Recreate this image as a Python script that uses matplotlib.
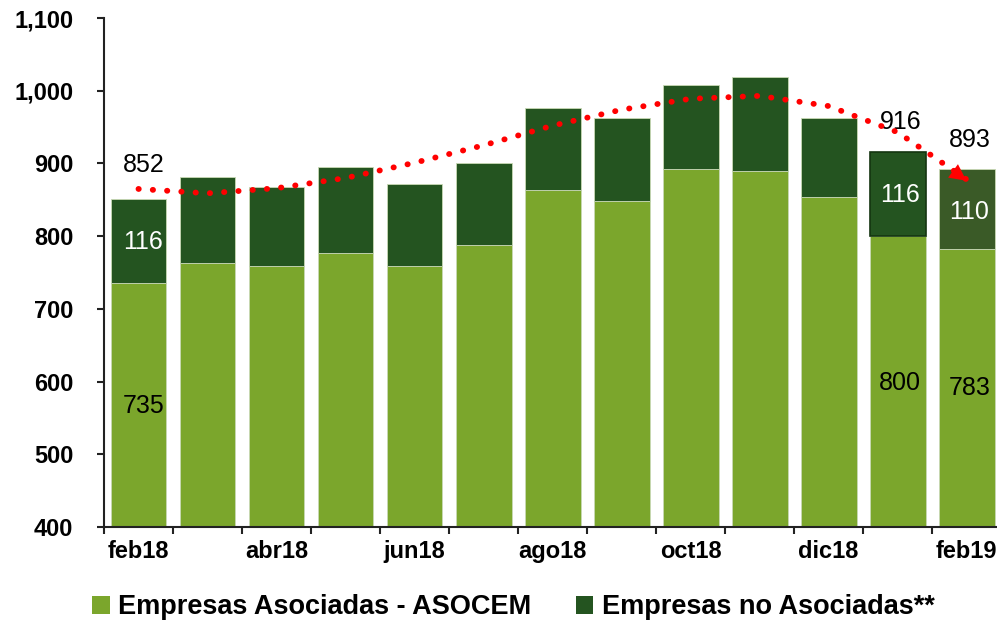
import matplotlib
matplotlib.use("Agg")
import matplotlib.pyplot as plt
from matplotlib.patches import Patch
import numpy as np

plt.rcParams['font.family'] = ['Liberation Sans', 'DejaVu Sans']

months = ["feb18", "mar18", "abr18", "may18", "jun18", "jul18", "ago18",
          "sep18", "oct18", "nov18", "dic18", "ene19", "feb19"]
tick_labels = ["feb18", "", "abr18", "", "jun18", "", "ago18", "",
               "oct18", "", "dic18", "", "feb19"]
asociadas = [735, 763, 759, 777, 759, 788, 864, 848, 892, 890, 854, 800, 783]
no_asociadas = [116, 118, 109, 118, 113, 113, 112, 115, 116, 129, 109, 116, 110]
trend = [865, 859, 866, 880, 901, 925, 952, 974, 989, 993, 979, 943, 878]
# published totals (labels) for the annotated months
total_labels = {0: 852, 11: 916, 12: 893}

light = '#7BA62C'
dark = '#245420'
dark_last = '#3A5A27'

fig = plt.figure(figsize=(9.97, 6.23), dpi=100)
ax = fig.add_axes([0.1043, 0.154, 0.8957, 0.817])

x = np.arange(len(months))
w = 0.81
ax.bar(x, asociadas, width=w, color=light, edgecolor='#C9D9B5', linewidth=0.6, zorder=2)
dark_colors = [dark] * (len(months) - 1) + [dark_last]
bars_top = ax.bar(x, no_asociadas, bottom=asociadas, width=w, color=dark_colors,
                  edgecolor='#C9D9B5', linewidth=0.6, zorder=2)
bars_top[11].set_edgecolor('#143510')
bars_top[11].set_linewidth(1.2)

# trend line
ax.plot(x, trend, color='#FF0000', linewidth=4.2,
        linestyle=(0, (0.05, 2.4)), dash_capstyle='round', zorder=4)
ax.annotate('', xy=(x[-1] + 0.03, trend[-1] - 4), xytext=(x[-1] - 0.2, trend[-1] + 12),
            arrowprops=dict(arrowstyle='-|>', color='#FF0000', lw=0,
                            mutation_scale=30), zorder=5)

ax.set_ylim(400, 1100)
ax.set_xlim(-0.5, 12.44)
ax.set_yticks(range(400, 1101, 100))
ax.set_yticklabels([f"{v:,}" for v in range(400, 1101, 100)],
                   fontsize=17, fontweight='bold')
ax.set_xticks(x)
ax.set_xticklabels(tick_labels, fontsize=17, fontweight='bold')
ax.set_xticks(np.arange(-0.5, 12.5, 1), minor=True)
ax.tick_params(axis='x', which='major', length=0, pad=9)
ax.tick_params(axis='x', which='minor', length=5, width=1.5, color='#222222')
ax.tick_params(axis='y', length=5, width=1.5, color='#222222', pad=17)
for s in ['top', 'right']:
    ax.spines[s].set_visible(False)
for s in ['left', 'bottom']:
    ax.spines[s].set_linewidth(1.5)
    ax.spines[s].set_color('#222222')

# data labels
lab_fs = 18
ax.text(x[0] + 0.07, 898, str(total_labels[0]),
        ha='center', va='center', fontsize=lab_fs, color='black')
ax.text(x[0] + 0.07, asociadas[0] + 57, str(no_asociadas[0]),
        ha='center', va='center', fontsize=lab_fs, color='white')
ax.text(x[0] + 0.07, 566, str(asociadas[0]), ha='center', va='center', fontsize=lab_fs, color='black')

ax.text(x[11] + 0.05, 957, str(total_labels[11]),
        ha='center', va='center', fontsize=lab_fs, color='black')
ax.text(x[11] + 0.04, 857, str(no_asociadas[11]),
        ha='center', va='center', fontsize=lab_fs, color='white')
ax.text(x[11] + 0.03, 598, str(asociadas[11]), ha='center', va='center', fontsize=lab_fs, color='black')

ax.text(x[12] + 0.04, 932, str(total_labels[12]),
        ha='center', va='center', fontsize=lab_fs, color='black')
ax.text(x[12] + 0.04, 833, str(no_asociadas[12]),
        ha='center', va='center', fontsize=lab_fs, color='white')
ax.text(x[12] + 0.04, 591, str(asociadas[12]), ha='center', va='center', fontsize=lab_fs, color='black')

handles = [Patch(facecolor=light, edgecolor='none'), Patch(facecolor=dark, edgecolor='none')]
fig.legend(handles, ["Empresas Asociadas - ASOCEM", "Empresas no Asociadas**"],
           loc='center left', bbox_to_anchor=(0.068, 0.025), ncol=2, frameon=False,
           prop={'weight': 'bold', 'size': 19.5}, handlelength=0.65, handleheight=0.65,
           handletextpad=0.3, columnspacing=1.65)

fig.savefig("out.png", dpi=100)
